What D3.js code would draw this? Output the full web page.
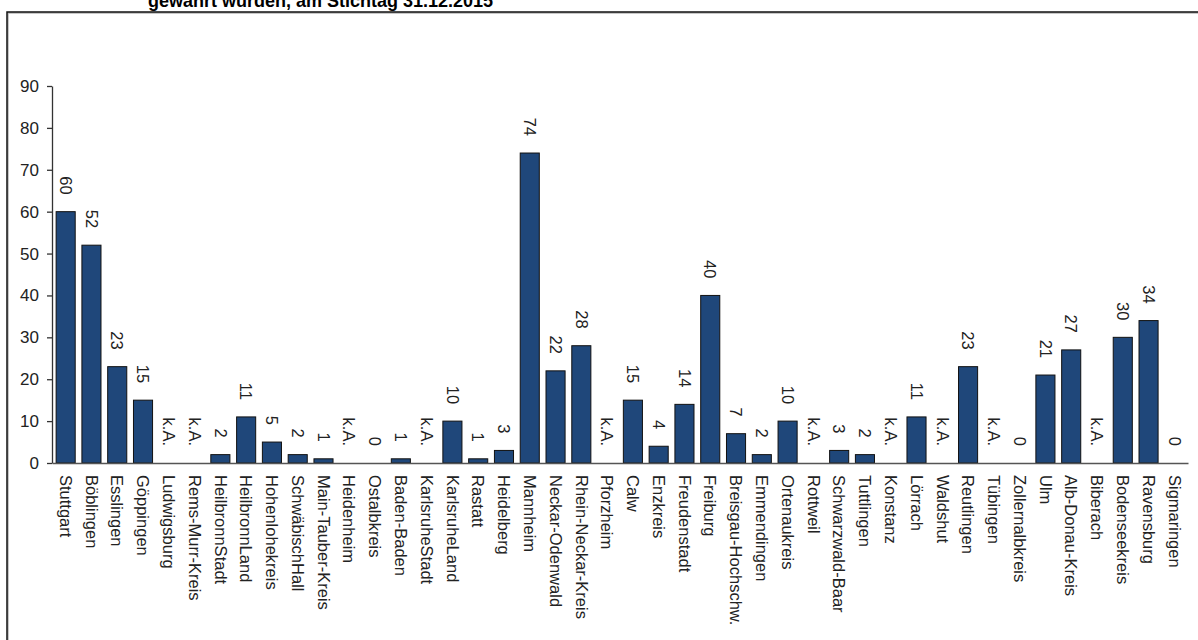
<!DOCTYPE html>
<html>
<head>
<meta charset="utf-8">
<script src="https://cdn.jsdelivr.net/npm/d3@7"></script>
<style>
  html, body { margin: 0; padding: 0; background: #fff; }
  svg { display: block; font-family: "Liberation Sans", Arial, sans-serif; }
</style>
</head>
<body>
<svg id="chart" width="1198" height="640"></svg>
<script>
// Kreise / Stadtkreise in Baden-Württemberg
const kreise = [
  "Stuttgart", "Böblingen", "Esslingen", "Göppingen", "Ludwigsburg",
  "Rems-Murr-Kreis", "HeilbronnStadt", "HeilbronnLand", "Hohenlohekreis",
  "SchwäbischHall", "Main-Tauber-Kreis", "Heidenheim", "Ostalbkreis",
  "Baden-Baden", "KarlsruheStadt", "KarlsruheLand", "Rastatt", "Heidelberg",
  "Mannheim", "Neckar-Odenwald", "Rhein-Neckar-Kreis", "Pforzheim", "Calw",
  "Enzkreis", "Freudenstadt", "Freiburg", "Breisgau-Hochschw.", "Emmendingen",
  "Ortenaukreis", "Rottweil", "Schwarzwald-Baar", "Tuttlingen", "Konstanz",
  "Lörrach", "Waldshut", "Reutlingen", "Tübingen", "Zollernalbkreis", "Ulm",
  "Alb-Donau-Kreis", "Biberach", "Bodenseekreis", "Ravensburg", "Sigmaringen"
];

// Anzahl je Kreis; null = keine Angabe (k.A.)
const anzahl = [
  60, 52, 23, 15, null,
  null, 2, 11, 5,
  2, 1, null, 0,
  1, null, 10, 1, 3,
  74, 22, 28, null, 15,
  4, 14, 40, 7, 2,
  10, null, 3, 2, null,
  11, null, 23, null, 0, 21,
  27, null, 30, 34, 0
];

const yTicks = [0, 10, 20, 30, 40, 50, 60, 70, 80, 90];
const titel = "gewährt wurden, am Stichtag 31.12.2015";
const keineAngabe = "k.A.";

const svg = d3.select("#chart");

// Rahmen
svg.append("rect")
  .attr("x", 8).attr("y", 13)
  .attr("width", 1300).attr("height", 800)
  .attr("fill", "none").attr("stroke", "#b5b5b5").attr("stroke-width", 1.5);
svg.append("rect")
  .attr("x", 7).attr("y", 12)
  .attr("width", 1300).attr("height", 800)
  .attr("fill", "none").attr("stroke", "#111").attr("stroke-width", 1.5);

// Titel (zweite Zeile)
svg.append("text")
  .attr("x", 148).attr("y", 7)
  .attr("font-size", 18).attr("font-weight", "bold")
  .attr("fill", "#000")
  .text(titel);

const plotLeft = 52, plotRight = 1188, plotTop = 86, plotBottom = 463;

const x = d3.scaleBand()
  .domain(kreise)
  .range([plotLeft, plotRight])
  .paddingInner(0.26)
  .paddingOuter(0.16);

const y = d3.scaleLinear()
  .domain([0, 90])
  .range([plotBottom, plotTop]);

const rows = kreise.map((k, i) => ({ kreis: k, wert: anzahl[i] }));

// Balken
svg.append("g")
  .selectAll("rect")
  .data(rows.filter(d => d.wert !== null && d.wert > 0))
  .join("rect")
  .attr("x", d => x(d.kreis))
  .attr("y", d => y(d.wert))
  .attr("width", x.bandwidth())
  .attr("height", d => y(0) - y(d.wert))
  .attr("fill", "#1f477a")
  .attr("stroke", "#111")
  .attr("stroke-width", 1);

// Werte über den Balken, gedreht
svg.append("g")
  .selectAll("text")
  .data(rows)
  .join("text")
  .attr("transform", d => {
    const cx = x(d.kreis) + x.bandwidth() / 2;
    const cy = y(d.wert === null ? 0 : d.wert) - 17;
    return `translate(${cx},${cy}) rotate(90)`;
  })
  .attr("text-anchor", "end")
  .attr("dy", "0.35em")
  .attr("font-size", 16.5)
  .attr("fill", "#222")
  .text(d => d.wert === null ? keineAngabe : d.wert);

// y-Achse
const yAxis = svg.append("g")
  .attr("transform", `translate(${plotLeft},0)`)
  .call(d3.axisLeft(y).tickValues(yTicks).tickSize(5).tickPadding(8).tickSizeOuter(0));
yAxis.select(".domain").attr("stroke", "#333").attr("stroke-width", 1.3);
yAxis.selectAll(".tick line").attr("stroke", "#333").attr("stroke-width", 1.3);
yAxis.selectAll(".tick text")
  .attr("font-size", 17)
  .attr("font-family", "'Liberation Sans', Arial, sans-serif")
  .attr("fill", "#222");

// x-Achse mit gedrehten Kreisnamen
const xAxis = svg.append("g")
  .attr("transform", `translate(0,${plotBottom})`)
  .call(d3.axisBottom(x).tickSize(0).tickSizeOuter(0).tickPadding(0));
xAxis.select(".domain").attr("stroke", "#555").attr("stroke-width", 1.5);
xAxis.selectAll(".tick text")
  .attr("font-size", 16.5)
  .attr("font-family", "'Liberation Sans', Arial, sans-serif")
  .attr("fill", "#222")
  .attr("text-anchor", "start")
  .attr("transform", "translate(0,12) rotate(90)")
  .attr("x", 0).attr("y", 0)
  .attr("dy", "0.35em");
</script>
</body>
</html>
